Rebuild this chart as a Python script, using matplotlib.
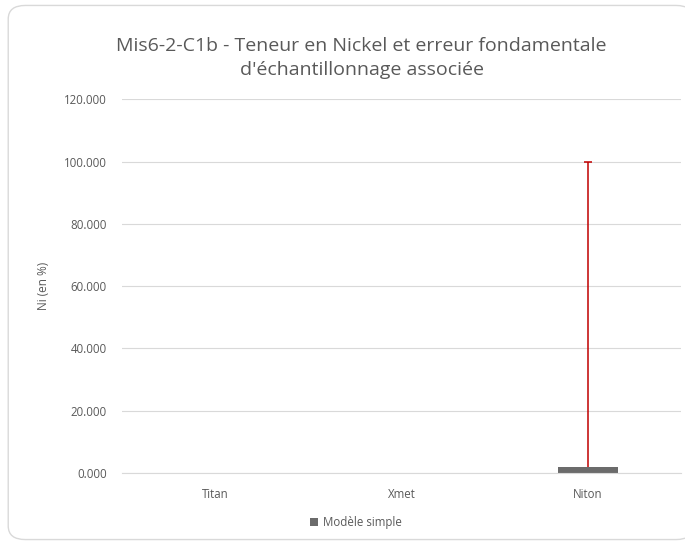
import matplotlib.pyplot as plt
from matplotlib.patches import FancyBboxPatch
from matplotlib.ticker import FormatStrFormatter

categories = ['Titan', 'Xmet', 'Niton']
values = [0.0, 0.0, 1.8]
err_plus = [0.0, 0.0, 98.2]
yticks = [0, 20, 40, 60, 80, 100, 120]

plt.rcParams['font.family'] = ['Open Sans', 'DejaVu Sans']

fig = plt.figure(figsize=(6.85, 5.45), dpi=100)
border = FancyBboxPatch((0.012, 0.01), 1.0, 0.98, boxstyle='round,pad=0,rounding_size=0.025',
                        transform=fig.transFigure, facecolor='white', edgecolor='#d9d9d9',
                        linewidth=1.0, zorder=-1)
fig.patches.append(border)

ax = fig.add_axes([0.178, 0.132, 0.816, 0.686])
ax.patch.set_alpha(0)
x = list(range(len(categories)))
ax.bar(x, values, width=0.32, color='#6b6b6b', label='Modèle simple', zorder=2)

# error bars only where there is an error, upper side only
ex = [i for i, e in zip(x, err_plus) if e > 0]
ev = [v for v, e in zip(values, err_plus) if e > 0]
ee = [e for e in err_plus if e > 0]
_, caps, _ = ax.errorbar(ex, ev, yerr=[[0] * len(ee), ee], fmt='none', ecolor='#c00000',
                         elinewidth=1.1, capsize=3, capthick=1.1, zorder=3)
caps[0].set_visible(False)

ax.set_xlim(-0.5, 2.5)
ax.set_ylim(0, 120)
ax.set_yticks(yticks)
ax.yaxis.set_major_formatter(FormatStrFormatter('%.3f'))
ax.set_xticks(x)
ax.set_xticklabels(categories)
ax.tick_params(axis='y', length=0, labelsize=8.3, colors='#595959', pad=11)
ax.tick_params(axis='x', length=0, labelsize=8.3, colors='#595959', pad=11)
ax.grid(axis='y', color='#d9d9d9', linewidth=0.8, zorder=0)
for s in ax.spines.values():
    s.set_visible(False)
ax.spines['bottom'].set_visible(True)
ax.spines['bottom'].set_color('#d9d9d9')
ax.set_ylabel('Ni (en %)', fontsize=8.5, color='#595959', labelpad=10)

fig.text(0.528, 0.893, "Mis6-2-C1b - Teneur en Nickel et erreur fondamentale\nd'échantillonnage associée",
         ha='center', va='center', fontsize=14, color='#595959', linespacing=1.45)

fig.legend(loc='center', bbox_to_anchor=(0.52, 0.042), frameon=False, fontsize=8.3,
           handlelength=0.7, handleheight=0.7, handletextpad=0.4, labelcolor='#595959')

fig.savefig('out.png', dpi=100)
